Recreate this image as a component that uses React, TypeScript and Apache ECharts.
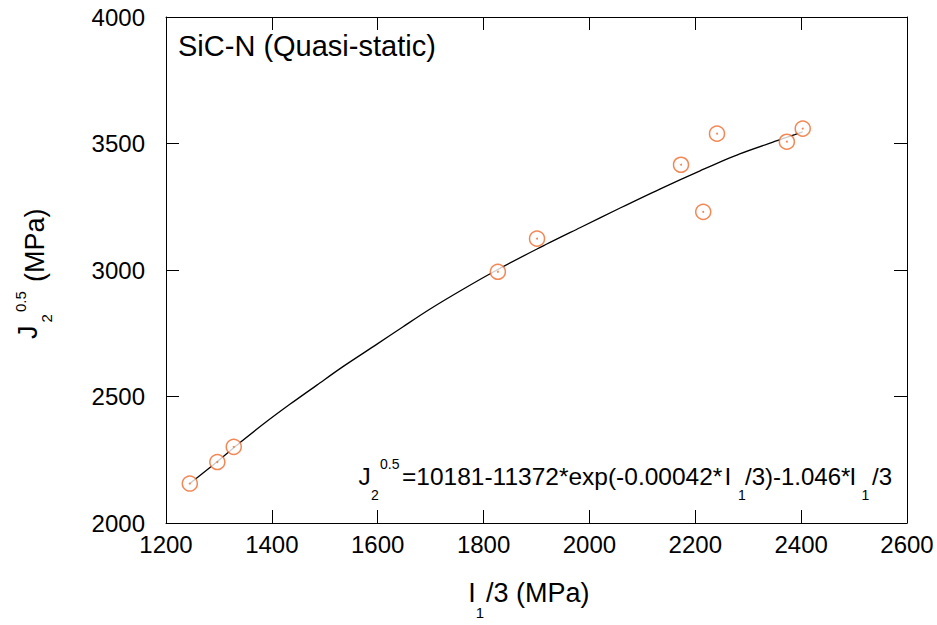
import React, { useEffect, useRef } from "react";
import * as echarts from "echarts";

// Measured data points (I1/3, J2^0.5), MPa
const pointX = [1245, 1297, 1328, 1827, 1901, 2173, 2215, 2241, 2373, 2403];
const pointY = [2156, 2241, 2301, 2993, 3124, 3416, 3230, 3539, 3507, 3559];

// Fitted curve
const curveX = [1245, 1296, 1340, 1384, 1434, 1485, 1535, 1598, 1648, 1699, 1762, 1827, 1901, 1982, 2058, 2133, 2209, 2284, 2360, 2388, 2403];
const curveY = [2156, 2241, 2318, 2391, 2469, 2545, 2619, 2706, 2776, 2846, 2925, 3002, 3083, 3167, 3245, 3320, 3392, 3459, 3515, 3535, 3546];

const xTicks = { min: 1200, max: 2600, interval: 200 };
const yTicks = { min: 2000, max: 4000, interval: 500 };

const FONT = "'Liberation Sans', Arial, Helvetica, sans-serif";
const ORANGE = "#f06a2c";

export default function App() {
  const ref = useRef<HTMLDivElement>(null);

  useEffect(() => {
    if (!ref.current) return;
    const chart = echarts.init(ref.current, undefined, { renderer: "svg" });

    const axisLine = { show: true, lineStyle: { color: "#000", width: 1 } };
    const axisTick = { show: true, inside: true, length: 13, lineStyle: { color: "#000", width: 1 } };
    const labelStyle = {
      color: "#000",
      fontSize: 24,
      fontFamily: FONT,
      formatter: (v: number) => String(v),
    };

    const txt = (text: string, x: number, y: number, size: number, rot = 0) => ({
      type: "text",
      x,
      y,
      rotation: rot,
      style: {
        text,
        fill: "#000",
        fontSize: size,
        fontFamily: FONT,
        align: "left",
        verticalAlign: "middle",
      },
      z: 10,
    });

    chart.setOption({
      animation: false,
      backgroundColor: "#fff",
      grid: { left: 166, right: 30, top: 17, bottom: 102, containLabel: false },
      xAxis: [
        {
          type: "value",
          position: "bottom",
          ...xTicks,
          axisLine,
          axisTick,
          splitLine: { show: false },
          axisLabel: { ...labelStyle, margin: 9 },
        },
        {
          type: "value",
          position: "top",
          ...xTicks,
          axisLine,
          axisTick,
          splitLine: { show: false },
          axisLabel: { show: false },
        },
      ],
      yAxis: [
        {
          type: "value",
          position: "left",
          ...yTicks,
          axisLine,
          axisTick,
          splitLine: { show: false },
          axisLabel: { ...labelStyle, margin: 21 },
        },
        {
          type: "value",
          position: "right",
          ...yTicks,
          axisLine,
          axisTick,
          splitLine: { show: false },
          axisLabel: { show: false },
        },
      ],
      series: [
        {
          type: "line",
          data: curveX.map((x, i) => [x, curveY[i]]),
          showSymbol: false,
          smooth: 0.3,
          lineStyle: { color: "#000", width: 1.3 },
          z: 2,
        },
        {
          type: "scatter",
          data: pointX.map((x, i) => [x, pointY[i]]),
          symbol: "circle",
          symbolSize: 15,
          itemStyle: { color: "#fff", borderColor: ORANGE, borderWidth: 1.5 },
          z: 3,
        },
        {
          type: "scatter",
          data: pointX.map((x, i) => [x, pointY[i]]),
          symbol: "circle",
          symbolSize: 2,
          itemStyle: { color: ORANGE },
          z: 4,
        },
      ],
      graphic: [
        txt("SiC-N (Quasi-static)", 178, 46, 29),
        // formula
        txt("J", 358.5, 476, 24.5),
        txt("2", 371, 495, 14),
        txt("0.5", 380, 464, 14),
        txt("=10181-11372*exp(-0.00042*", 402, 476, 24.5),
        txt("I", 724.4, 476, 24.5),
        txt("1", 738, 495, 14),
        txt("/3)-1.046*", 745, 476, 24),
        txt("I", 849.5, 476, 24),
        txt("1", 861.5, 495, 14),
        txt("/3", 872, 476, 24),
        // x axis name
        txt("I", 468.2, 593, 27),
        txt("1", 475.7, 612.5, 15),
        txt("/3 (MPa)", 486, 593, 27),
        // y axis name (rotated)
        txt("J", 27.5, 339, 27, Math.PI / 2),
        txt("2", 46.7, 322.5, 15, Math.PI / 2),
        txt("0.5", 20.5, 312, 15, Math.PI / 2),
        txt("(MPa)", 34.7, 282, 27, Math.PI / 2),
      ],
    });

    return () => chart.dispose();
  }, []);

  return (
    <div
      ref={ref}
      style={{ position: "fixed", left: 0, top: 0, width: 937, height: 625, background: "#fff" }}
    />
  );
}
